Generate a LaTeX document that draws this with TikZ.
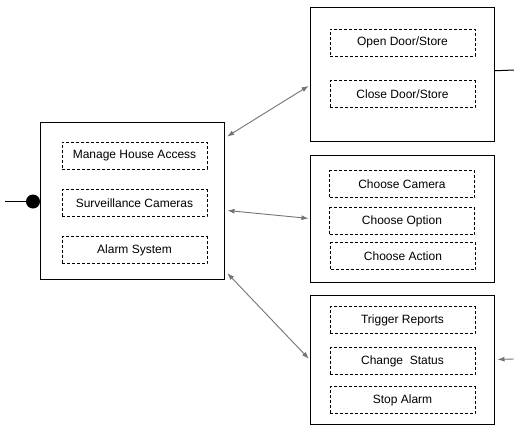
\documentclass[tikz,border=0pt]{standalone}
\usepackage{fontspec}
\setmainfont{Liberation Sans}
\usetikzlibrary{arrows.meta}

\begin{document}
\begin{tikzpicture}[x=1pt, y=-1pt,
		every node/.style={font=\fontsize{12}{14}\selectfont, inner sep=0pt},
		outerbox/.style={draw=black, line width=1pt, minimum width=184pt},
		taskbox/.style={draw=black, line width=0.8pt, dash pattern=on 3pt off 2pt, minimum width=145pt, minimum height=27pt},
		link/.style={draw=black!55, line width=0.9pt, -{Latex[length=7pt,width=5pt]}},
		biglink/.style={draw=black!55, line width=0.9pt, {Latex[length=7pt,width=5pt]}-{Latex[length=7pt,width=5pt]}}]
				\useasboundingbox (0,0) rectangle (514,426);
				% main system box
				\node[outerbox, minimum height=157pt] (main) at (132,200.5){};
				\node[taskbox] (M1) at (134.5,155.5){Manage House Access};
				\node[taskbox] (M2) at (134.5,203){Surveillance Cameras};
				\node[taskbox] (M3) at (134.5,250){Alarm System};
				\node[circle, fill=black, minimum size=14pt] (port) at (33,201.5){};
				\coordinate (portin) at (5,201.5);
				\draw[line width=1pt] (portin) -- (port);
				% door box
				\node[outerbox, minimum height=134pt] (door) at (402,74){};
				\node[taskbox] (D1) at (402.5,42.5){Open Door/Store};
				\node[taskbox] (D2) at (402.5,94){Close Door/Store};
				\coordinate (doorout) at (514,70);
				\draw[line width=1pt] (door.2.5) -- (doorout);
				% camera box
				\node[outerbox, minimum height=127pt] (cam) at (402,218.5){};
				\node[taskbox] (C1) at (402,184){Choose Camera};
				\node[taskbox] (C2) at (402,221){Choose Option};
				\node[taskbox] (C3) at (403,256){Choose Action};
				% alarm box
				\node[outerbox, minimum height=129pt] (alarm) at (402,359.5){};
				\node[taskbox] (A1) at (402.5,320){Trigger Reports};
				\node[taskbox] (A2) at (402.5,361){Change~~Status};
				\node[taskbox] (A3) at (402.5,400){Stop Alarm};
				\coordinate (alarmin) at (514,359);
				% connections
				\draw[biglink, shorten <=3pt, shorten >=1pt] (main.34) -- (door.187);
				\draw[biglink, shorten <=3pt, shorten >=1pt] (main.-6.5) -- (cam.west);
				\draw[biglink, shorten <=4pt, shorten >=1pt] (main.-37) -- (alarm.west);
				\draw[link, shorten >=3pt] (alarmin) -- (alarm.east);
\end{tikzpicture}
\end{document}
